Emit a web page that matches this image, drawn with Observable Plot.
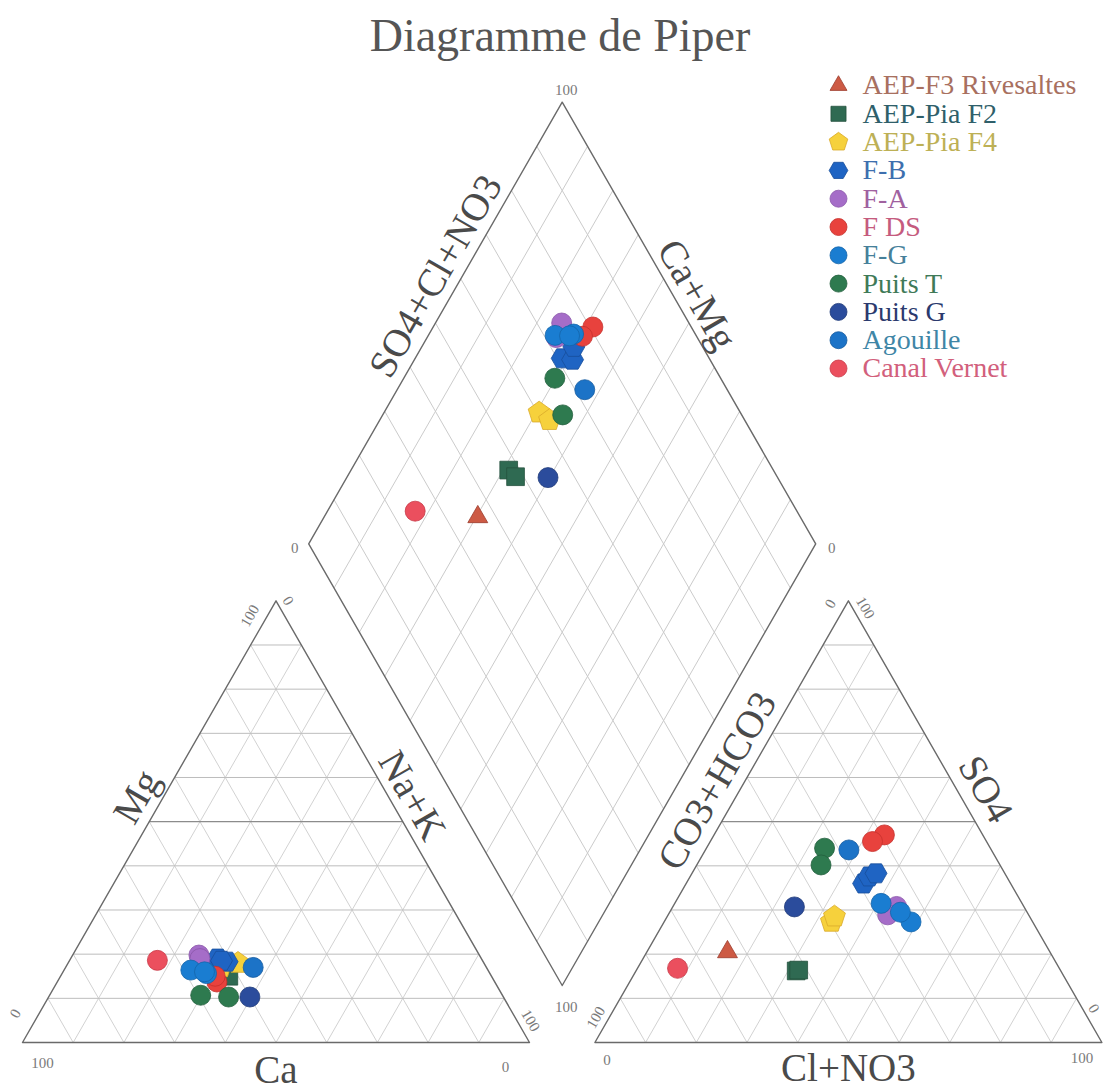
<!DOCTYPE html>
<html><head><meta charset="utf-8">
<script src="https://cdn.jsdelivr.net/npm/d3@7"></script>
<script src="https://cdn.jsdelivr.net/npm/@observablehq/plot@0.6"></script>
<style>
body{margin:0;background:#fff;width:1108px;overflow:hidden;}
#title{height:60px;box-sizing:border-box;padding-top:13px;padding-left:12px;font:46px/46px "Liberation Serif",serif;color:#555;text-align:center;white-space:nowrap;}
#chart svg{display:block;background:#fff;overflow:visible;}
</style></head><body>
<div id="title">Diagramme de Piper</div>
<div id="chart"></div>
<script>
// ---------------- DATA ----------------
const series = ["AEP-F3 Rivesaltes","AEP-Pia F2","AEP-Pia F4","F-B","F-A","F DS","F-G","Puits T","Puits G","Agouille","Canal Vernet"];
const sampleSeries = [
  "AEP-F3 Rivesaltes",
  "AEP-Pia F2","AEP-Pia F2",
  "AEP-Pia F4","AEP-Pia F4",
  "F-B","F-B","F-B",
  "F-A","F-A",
  "F DS","F DS",
  "F-G","F-G","F-G",
  "Puits T","Puits T",
  "Puits G",
  "Agouille",
  "Canal Vernet"
];
// cations (% meq): Mg and Na+K  (Ca = 100 - Mg - NaK)
const cationMg  = [16.8, 16.0, 15.0, 17.0, 18.0, 19.0, 18.3, 18.5, 19.8, 19.0, 13.7, 15.0, 16.4, 15.6, 16.0, 10.7, 10.3, 10.3, 17.0, 18.6];
const cationNaK = [30.3, 31.1, 33.2, 30.6, 33.5, 29.0, 31.2, 30.0, 24.9, 25.5, 31.5, 30.5, 25.0, 28.5, 27.9, 29.8, 35.5, 39.7, 37.0, 17.3];
// anions (% meq): SO4 and Cl+NO3  (CO3+HCO3 = 100 - SO4 - Cl)
const anionSO4  = [20.5, 16.2, 16.4, 27.3, 28.5, 36.0, 37.6, 38.3, 30.8, 28.9, 47.0, 45.5, 31.5, 27.3, 29.5, 44.0, 40.2, 30.7, 43.6, 16.8];
const anionCl   = [15.9, 31.6, 32.0, 33.0, 33.0, 35.0, 35.3, 36.3, 44.1, 43.3, 33.6, 32.0, 40.7, 48.7, 45.5, 23.3, 24.5, 24.0, 28.3, 7.9];
const gridTicks = [10, 20, 30, 40, 50, 60, 70, 80, 90];
const axisNames = {mg:"Mg", nak:"Na+K", ca:"Ca", hco3:"CO3+HCO3", so4:"SO4", cl:"Cl+NO3", top:"SO4+Cl+NO3", camg:"Ca+Mg"};

// ---------------- STYLE ----------------
const H = Math.sqrt(3) / 2;
const pentagon = {draw(ctx, size) {
  const R = Math.sqrt(size / (2.5 * Math.sin(2 * Math.PI / 5)));
  for (let i = 0; i < 5; i++) {
    const a = -Math.PI / 2 + i * 2 * Math.PI / 5;
    const px = R * Math.cos(a), py = R * Math.sin(a);
    if (i === 0) ctx.moveTo(px, py); else ctx.lineTo(px, py);
  }
  ctx.closePath();
}};
const hexFlat = {draw(ctx, size) {
  const R = Math.sqrt(size / (3 * Math.sqrt(3) / 2));
  for (let i = 0; i < 6; i++) {
    const a = i * Math.PI / 3;
    const px = R * Math.cos(a), py = R * Math.sin(a);
    if (i === 0) ctx.moveTo(px, py); else ctx.lineTo(px, py);
  }
  ctx.closePath();
}};
const seriesStyle = {
  "AEP-F3 Rivesaltes": {symbol: "triangle", r: 7.4, fill: "#cd5a44", stroke: "#9b3b2c", text: "#a8705f"},
  "AEP-Pia F2":        {symbol: "square",   r: 10,  fill: "#2f6a52", stroke: "#24503e", text: "#2f5f6a"},
  "AEP-Pia F4":        {symbol: pentagon,   r: 10,  fill: "#f6d13c", stroke: "#d9a92a", text: "#bdb055"},
  "F-B":               {symbol: hexFlat,    r: 10,  fill: "#1f64c3", stroke: "#184e9a", text: "#3d6fae"},
  "F-A":               {symbol: "circle",   r: 10,  fill: "#a56dc8", stroke: "#8a57aa", text: "#a0619f"},
  "F DS":              {symbol: "circle",   r: 10,  fill: "#e8423d", stroke: "#c5302c", text: "#c55b7e"},
  "F-G":               {symbol: "circle",   r: 10,  fill: "#1a7dd1", stroke: "#1465a9", text: "#46809a"},
  "Puits T":           {symbol: "circle",   r: 10,  fill: "#2e7a4f", stroke: "#235f3d", text: "#3f7a58"},
  "Puits G":           {symbol: "circle",   r: 10,  fill: "#2b4c9c", stroke: "#223c7a", text: "#2b3a6e"},
  "Agouille":          {symbol: "circle",   r: 10,  fill: "#1c73c7", stroke: "#165ca0", text: "#3f86a6"},
  "Canal Vernet":      {symbol: "circle",   r: 10,  fill: "#eb4f5e", stroke: "#c83a48", text: "#d2607c"}
};
const serif = "Liberation Serif, Times New Roman, serif";

// ---------------- GEOMETRY ----------------
const W = 1108, HT = 1029;
const SX = 5.07, SY = 5.10;       // px per unit
const OX = 22, OY = 982;          // px of the cation triangle's lower-left corner (svg coords)
const G = 12.9;                   // gap between the triangles (units)
const cat = (mg, nak) => [nak + mg / 2, mg * H];
const ani = (so4, cl) => [100 + G + cl + so4 / 2, so4 * H];
const B = [100 + G / 2, G * H];
const dia = (a, c) => [B[0] + (a - (100 - c)) * 0.5, B[1] + (a + (100 - c)) * H];
const px2u = (dx, dy) => [dx / SX, -dy / SY];

// samples
const samples = sampleSeries.map((s, i) => {
  const mg = cationMg[i], nak = cationNaK[i], so4 = anionSO4[i], cl = anionCl[i];
  return {series: s, c: cat(mg, nak), an: ani(so4, cl), d: dia(so4 + cl, nak)};
});

// grid segments
const segs = [];
for (const t of gridTicks) {
  const hk = t === 50 ? "major" : "h";
  segs.push({p: cat(t, 0), q: cat(t, 100 - t), k: hk});
  segs.push({p: cat(0, t), q: cat(100 - t, t), k: "d"});
  segs.push({p: cat(0, 100 - t), q: cat(100 - t, 0), k: "d"});
  segs.push({p: ani(t, 0), q: ani(t, 100 - t), k: hk});
  segs.push({p: ani(0, t), q: ani(100 - t, t), k: "d"});
  segs.push({p: ani(0, 100 - t), q: ani(100 - t, 0), k: "d"});
  segs.push({p: dia(t, 100), q: dia(t, 0), k: "dd"});
  segs.push({p: dia(0, t), q: dia(100, t), k: "dd"});
}
const cBL = cat(0, 0), cBR = cat(0, 100), cA = cat(100, 0);
const aBL = ani(0, 0), aBR = ani(0, 100), aA = ani(100, 0);
const dB = dia(0, 100), dR = dia(100, 100), dT = dia(100, 0), dL = dia(0, 0);
const outlines = [
  ...[cBL, cBR, cA, cBL].map(p => ({p, z: "c"})),
  ...[aBL, aBR, aA, aBL].map(p => ({p, z: "a"})),
  ...[dB, dR, dT, dL, dB].map(p => ({p, z: "d"}))
];

// corner labels: vertex + pixel offset
const corner = (v, dx, dy, text, rot) => { const o = px2u(dx, dy); return {x: v[0] + o[0], y: v[1] + o[1], text, rot}; };
const corners = [
  corner(cA, -26, 15, "100", -60), corner(cA, 12, 0, "0", 60),
  corner(cBL, -7, -29, "0", -60), corner(cBL, 20, 21, "100", 0),
  corner(cBR, 1, -22, "100", 60), corner(cBR, -24, 25, "0", 0),
  corner(aA, -18, 3, "0", -60), corner(aA, 17, 7, "100", 60),
  corner(aBL, 1, -25, "100", -60), corner(aBL, 12, 18, "0", 0),
  corner(aBR, -8, -34, "0", 60), corner(aBR, -20, 16, "100", 0),
  corner(dT, 4, -12, "100", 0), corner(dL, -14, 4, "0", 0),
  corner(dR, 16, 4, "0", 0), corner(dB, 4, 22, "100", 0)
];
// axis labels along edges
const edgeLabel = (P, Q, f, nx, ny, d, text, rot) => {
  const o = px2u(nx * d, -ny * d);
  return {x: P[0] + f * (Q[0] - P[0]) + o[0], y: P[1] + f * (Q[1] - P[1]) + o[1], text, rot};
};
const axisLabels = [
  edgeLabel(cBL, cA, 0.53, -H, 0.5, 23, axisNames.mg, -60),
  edgeLabel(cBR, cA, 0.535, H, 0.5, 21, axisNames.nak, 60),
  edgeLabel(dL, dT, 0.58, -H, 0.5, 23, axisNames.top, -60),
  edgeLabel(dR, dT, 0.54, H, 0.5, 21, axisNames.camg, 60),
  edgeLabel(aBL, aA, 0.565, -H, 0.5, 24, axisNames.hco3, -60),
  edgeLabel(aBR, aA, 0.545, H, 0.5, 25, axisNames.so4, 60),
  edgeLabel(cBL, cBR, 0.5, 0, -1, 28, axisNames.ca, 0),
  edgeLabel(aBL, aBR, 0.5, 0, -1, 26, axisNames.cl, 0)
];
// legend layout
const legX = (838 - OX) / SX, legTX = (862 - OX) / SX;
const legend = series.map((s, i) => ({s, y: (OY - (25 + 28.3 * i)) / SY}));

const marks = [
  Plot.link(segs.filter(d => d.k === "d"), {x1: d => d.p[0], y1: d => d.p[1], x2: d => d.q[0], y2: d => d.q[1], stroke: "#d2d2d2", strokeWidth: 1}),
  Plot.link(segs.filter(d => d.k === "dd"), {x1: d => d.p[0], y1: d => d.p[1], x2: d => d.q[0], y2: d => d.q[1], stroke: "#cbcbcb", strokeWidth: 1}),
  Plot.link(segs.filter(d => d.k === "h"), {x1: d => d.p[0], y1: d => d.p[1], x2: d => d.q[0], y2: d => d.q[1], stroke: "#bdbdbd", strokeWidth: 1}),
  Plot.link(segs.filter(d => d.k === "major"), {x1: d => d.p[0], y1: d => d.p[1], x2: d => d.q[0], y2: d => d.q[1], stroke: "#8c8c8c", strokeWidth: 1.3}),
  Plot.line(outlines, {x: d => d.p[0], y: d => d.p[1], z: "z", stroke: "#6a6a6a", strokeWidth: 1.4}),
  Plot.text(corners, {x: "x", y: "y", text: "text", rotate: "rot", fontSize: 15, fontFamily: serif, fill: "#7a7a7a", textAnchor: "middle", lineAnchor: "middle"}),
  Plot.text(axisLabels, {x: "x", y: "y", text: "text", rotate: "rot", fontSize: 39, fontFamily: serif, fill: "#4a4a4a", textAnchor: "middle", lineAnchor: "middle"})
];
for (const s of series) {
  const st = seriesStyle[s];
  const pts = samples.filter(d => d.series === s);
  for (const key of ["c", "an", "d"]) {
    marks.push(Plot.dot(pts, {x: d => d[key][0], y: d => d[key][1], symbol: st.symbol, r: st.r, fill: st.fill, stroke: st.stroke, strokeWidth: 0.8}));
  }
}
for (const [i, s] of series.entries()) {
  const st = seriesStyle[s];
  marks.push(Plot.dot([legend[i]], {x: legX, y: "y", symbol: st.symbol, r: st.r * 0.85, fill: st.fill, stroke: st.stroke, strokeWidth: 0.8}));
  marks.push(Plot.text([legend[i]], {x: legTX, y: "y", text: "s", fontSize: 28, fontFamily: serif, fill: st.text, textAnchor: "start", lineAnchor: "middle"}));
}

const chart = Plot.plot({
  width: W, height: HT,
  marginTop: 0, marginRight: 0, marginBottom: 0, marginLeft: 0,
  x: {domain: [-OX / SX, (W - OX) / SX], range: [0, W], axis: null},
  y: {domain: [-(HT - OY) / SY, OY / SY], range: [HT, 0], axis: null},
  style: {background: "#fff"},
  marks
});
document.getElementById("chart").appendChild(chart);
</script>
</body></html>
